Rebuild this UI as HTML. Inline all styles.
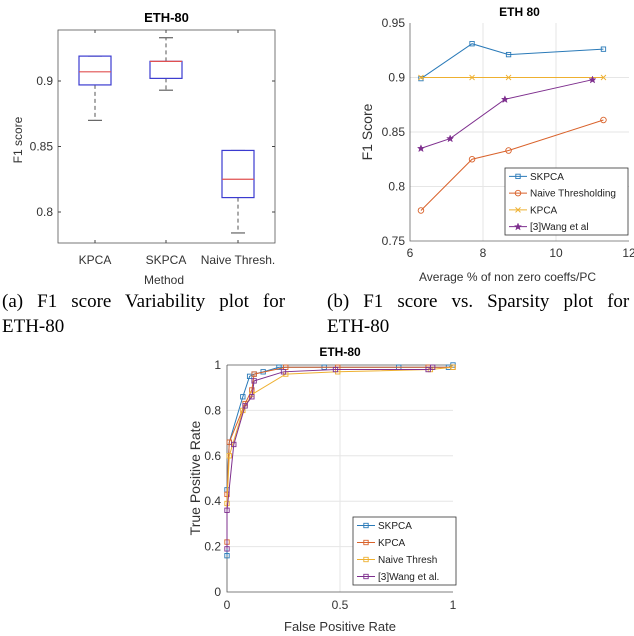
<!DOCTYPE html>
<html><head><meta charset="utf-8"><style>
html,body{margin:0;padding:0;background:#fff;}
svg{display:block;}
text{font-family:"Liberation Sans",sans-serif;}
.cap{font-family:"Liberation Serif",serif;font-size:19px;fill:#000;}
</style></head><body>
<svg id="fig" width="634" height="636" viewBox="0 0 634 636" xmlns="http://www.w3.org/2000/svg">
<text class="cap" x="2" y="307" word-spacing="9.3">(a) F1 score Variability plot for</text>
<text class="cap" x="2" y="332">ETH-80</text>
<text class="cap" x="327" y="307" word-spacing="9.3">(b) F1 score vs. Sparsity plot for</text>
<text class="cap" x="327" y="332">ETH-80</text>
</svg>
<script>
// ---- Chart A data (box plot) ----
const boxCategories = ["KPCA","SKPCA","Naive Thresh."];
const boxQ1 = [0.897, 0.902, 0.811];
const boxMedian = [0.907, 0.915, 0.825];
const boxQ3 = [0.919, 0.915, 0.847];
const boxLow = [0.870, 0.893, 0.784];
const boxHigh = [0.919, 0.933, 0.847];
const boxYTicks = [0.8, 0.85, 0.9];
// ---- Chart B data ----
const sparTicksX = [6,8,10,12];
const sparTicksY = [0.75,0.8,0.85,0.9,0.95];
const skpcaX = [6.3,7.7,8.7,11.3];
const skpcaY = [0.899,0.931,0.921,0.926];
const naiveX = [6.3,7.7,8.7,11.3];
const naiveY = [0.778,0.825,0.833,0.861];
const kpcaX = [6.3,7.7,8.7,11.3];
const kpcaY = [0.9,0.9,0.9,0.9];
const wangX = [6.3,7.1,8.6,11.0];
const wangY = [0.835,0.844,0.880,0.898];
// ---- Chart C data (ROC) ----
const rocTicksX = [0,0.5,1];
const rocTicksY = [0,0.2,0.4,0.6,0.8,1];
const rocSkX = [0,0,0.01,0.07,0.1,0.12,0.16,0.23,0.43,0.76,0.98,1];
const rocSkY = [0.16,0.45,0.66,0.86,0.95,0.96,0.97,0.99,0.99,0.99,0.99,1];
const rocKX = [0,0,0.01,0.08,0.11,0.12,0.26,0.49,0.89,1];
const rocKY = [0.22,0.43,0.66,0.83,0.89,0.96,0.99,0.99,0.99,0.99];
const rocNX = [0,0.01,0.07,0.11,0.26,0.49,0.9,1];
const rocNY = [0.39,0.6,0.8,0.87,0.96,0.97,0.98,0.99];
const rocWX = [0,0,0.03,0.08,0.11,0.12,0.25,0.48,0.89,0.91];
const rocWY = [0.19,0.36,0.65,0.82,0.86,0.93,0.97,0.98,0.98,0.99];

const svg = document.getElementById('fig');
const NS = 'http://www.w3.org/2000/svg';
function mk(tag, attrs, parent){const e=document.createElementNS(NS,tag);for(const k in attrs)e.setAttribute(k,attrs[k]);(parent||svg).appendChild(e);return e;}
function txt(s, attrs, parent){const e=mk('text',attrs,parent);e.textContent=s;return e;}
function lin(a,b,c,d){return (v)=>c+(v-a)*(d-c)/(b-a);}

// ===== Chart A =====
{
const g=mk('g',{});  
const L=58,R=275,T=30,B=243;
const y=lin(0.9,0.8,81,212);
const xs=[95,166,238];
mk('rect',{x:L,y:T,width:R-L,height:B-T,fill:'#fff',stroke:'#555','stroke-width':0.8},g);
const t=txt('ETH-80',{x:(L+R)/2,y:22,'text-anchor':'middle','font-size':13,'font-weight':'bold',fill:'#000'},g);
 
boxYTicks.forEach(v=>{
  mk('line',{x1:L,x2:L+3,y1:y(v),y2:y(v),stroke:'#444'},g);
  mk('line',{x1:R,x2:R-3,y1:y(v),y2:y(v),stroke:'#444'},g);
  const e=txt(String(v),{x:L-5,y:y(v)+4,'text-anchor':'end','font-size':12,fill:'#333'},g);
   
});
const yt=txt('F1 score',{x:0,y:0,transform:'translate(22,140) rotate(-90)','text-anchor':'middle','font-size':12,fill:'#333'},g);
 
const xt=txt('Method',{x:164,y:284,'text-anchor':'middle','font-size':12,fill:'#333'},g);
 
boxCategories.forEach((c,i)=>{
  const x=xs[i], w=32;
  mk('line',{x1:x,x2:x,y1:B,y2:B-3,stroke:'#444'},g);
  mk('line',{x1:x,x2:x,y1:T,y2:T+3,stroke:'#444'},g);
  const lab=txt(c,{x:x,y:264,'text-anchor':'middle','font-size':12,fill:'#333'},g);
   
  const bg=mk('g',{},g);  
  mk('line',{x1:x,x2:x,y1:y(boxQ1[i]),y2:y(boxLow[i]),stroke:'#555','stroke-dasharray':'4,3'},bg);
  mk('line',{x1:x,x2:x,y1:y(boxQ3[i]),y2:y(boxHigh[i]),stroke:'#555','stroke-dasharray':'4,3'},bg);
  mk('line',{x1:x-7,x2:x+7,y1:y(boxLow[i]),y2:y(boxLow[i]),stroke:'#444'},bg);
  mk('line',{x1:x-7,x2:x+7,y1:y(boxHigh[i]),y2:y(boxHigh[i]),stroke:'#444'},bg);
  mk('rect',{x:x-w/2,y:y(boxQ3[i]),width:w,height:y(boxQ1[i])-y(boxQ3[i]),fill:'none',stroke:'#3b3bd0','stroke-width':1.2},bg);
  mk('line',{x1:x-w/2,x2:x+w/2,y1:y(boxMedian[i]),y2:y(boxMedian[i]),stroke:'#e05050','stroke-width':1.2},bg);
});
}

// ===== Line chart helpers =====
function marker(kind,cx,cy,col,p){
  if(kind==='sq') mk('rect',{x:cx-2.2,y:cy-2.2,width:4.4,height:4.4,fill:'none',stroke:col,'stroke-width':0.9},p);
  else if(kind==='o') mk('circle',{cx:cx,cy:cy,r:2.8,fill:'none',stroke:col,'stroke-width':0.9},p);
  else if(kind==='x'){mk('path',{d:`M${cx-2.5},${cy-2.5}L${cx+2.5},${cy+2.5}M${cx-2.5},${cy+2.5}L${cx+2.5},${cy-2.5}`,stroke:col,'stroke-width':0.9},p);}
  else if(kind==='star') mk('path',{d:`M${cx},${cy-3.5}L${cx+1},${cy-1}L${cx+3.4},${cy-1}L${cx+1.5},${cy+0.7}L${cx+2.2},${cy+3.2}L${cx},${cy+1.7}L${cx-2.2},${cy+3.2}L${cx-1.5},${cy+0.7}L${cx-3.4},${cy-1}L${cx-1},${cy-1}Z`,fill:col,stroke:col,'stroke-width':0.5},p);
}
function series(name,xsD,ysD,fx,fy,col,kind,parent){
  const g=mk('g',{},parent);  
  const pts=xsD.map((v,i)=>fx(v)+','+fy(ysD[i])).join(' ');
  mk('polyline',{points:pts,fill:'none',stroke:col,'stroke-width':1},g);
  xsD.forEach((v,i)=>marker(kind,fx(v),fy(ysD[i]),col,g));
}
function legend(items,x,y,w,h,parent,name){
  const g=mk('g',{},parent);  
  mk('rect',{x:x,y:y,width:w,height:h,fill:'#fff',stroke:'#333','stroke-width':0.8},g);
  const step=h/items.length;
  items.forEach((it,i)=>{
    const yy=y+step*(i+0.5);
    const eg=mk('g',{},g);  
    mk('line',{x1:x+4,x2:x+22,y1:yy,y2:yy,stroke:it[1],'stroke-width':1},eg);
    marker(it[2],x+13,yy,it[1],eg);
    txt(it[0],{x:x+25,y:yy+3.5,'font-size':10,fill:'#222'},eg);
  });
}
const cBlue='#2a7ab8', cOrange='#d9622b', cYellow='#eeb030', cPurple='#7e2f8e';

// ===== Chart B =====
{
const g=mk('g',{});  
const L=410,R=629,T=23,B=241;
const x=lin(6,12,L,R), y=lin(0.75,0.95,B,T);
mk('rect',{x:L,y:T,width:R-L,height:B-T,fill:'#fff',stroke:'none'},g);
sparTicksX.forEach(v=>{ if(v>6&&v<12) mk('line',{x1:x(v),x2:x(v),y1:T,y2:B,stroke:'#e6e6e6'},g);
  const e=txt(String(v),{x:x(v),y:B+16,'text-anchor':'middle','font-size':12,fill:'#333'},g);
   });
sparTicksY.forEach(v=>{ if(v>0.75&&v<0.95) mk('line',{x1:L,x2:R,y1:y(v),y2:y(v),stroke:'#e6e6e6'},g);
  const e=txt(String(v),{x:L-5,y:y(v)+4,'text-anchor':'end','font-size':12,fill:'#333'},g);
   });
mk('path',{d:`M${L},${T}L${L},${B}L${R},${B}`,fill:'none',stroke:'#666','stroke-width':0.8},g);
const t=txt('ETH 80',{x:(L+R)/2,y:16,'text-anchor':'middle','font-size':12,'font-weight':'bold',fill:'#000'},g);
 
const yt=txt('F1 Score',{x:0,y:0,transform:'translate(372,132) rotate(-90)','text-anchor':'middle','font-size':14,fill:'#333'},g);
 
const xt=txt('Average % of non zero coeffs/PC',{x:(L+R)/2-12,y:281,'text-anchor':'middle','font-size':12,fill:'#333'},g);
 
series('series-skpca',skpcaX,skpcaY,x,y,cBlue,'sq',g);
series('series-naive-thresholding',naiveX,naiveY,x,y,cOrange,'o',g);
series('series-kpca',kpcaX,kpcaY,x,y,cYellow,'x',g);
series('series-wang',wangX,wangY,x,y,cPurple,'star',g);
legend([['SKPCA',cBlue,'sq'],['Naive Thresholding',cOrange,'o'],['KPCA',cYellow,'x'],['[3]Wang et al',cPurple,'star']],505,168,123,67,g,'sparsity-legend');
}

// ===== Chart C =====
{
const g=mk('g',{});  
const L=227,R=453,T=365,B=592;
const x=lin(0,1,L,R), y=lin(0,1,B,T);
rocTicksX.forEach(v=>{ if(v>0&&v<1) mk('line',{x1:x(v),x2:x(v),y1:T,y2:B,stroke:'#e6e6e6'},g);
  const e=txt(String(v),{x:x(v),y:B+17,'text-anchor':'middle','font-size':12,fill:'#333'},g);
   });
rocTicksY.forEach(v=>{ if(v>0&&v<1) mk('line',{x1:L,x2:R,y1:y(v),y2:y(v),stroke:'#e6e6e6'},g);
  const e=txt(String(v),{x:L-6,y:y(v)+4,'text-anchor':'end','font-size':12,fill:'#333'},g);
   });
mk('path',{d:`M${L},${T}L${R},${T}M${L},${T}L${L},${B}L${R},${B}`,fill:'none',stroke:'#555','stroke-width':0.8},g);
const t=txt('ETH-80',{x:(L+R)/2,y:356,'text-anchor':'middle','font-size':12,'font-weight':'bold',fill:'#000'},g);
 
const yt=txt('True Positive Rate',{x:0,y:0,transform:'translate(200,478) rotate(-90)','text-anchor':'middle','font-size':14,fill:'#333'},g);
 
const xt=txt('False Positive Rate',{x:(L+R)/2,y:631,'text-anchor':'middle','font-size':13,fill:'#333'},g);
 
series('roc-skpca',rocSkX,rocSkY,x,y,cBlue,'sq',g);
series('roc-kpca',rocKX,rocKY,x,y,cOrange,'sq',g);
series('roc-naive-thresh',rocNX,rocNY,x,y,cYellow,'sq',g);
series('roc-wang',rocWX,rocWY,x,y,cPurple,'sq',g);
legend([['SKPCA',cBlue,'sq'],['KPCA',cOrange,'sq'],['Naive Thresh',cYellow,'sq'],['[3]Wang et al.',cPurple,'sq']],353,517,103,68,g,'roc-legend');
}
</script>
</body></html>
